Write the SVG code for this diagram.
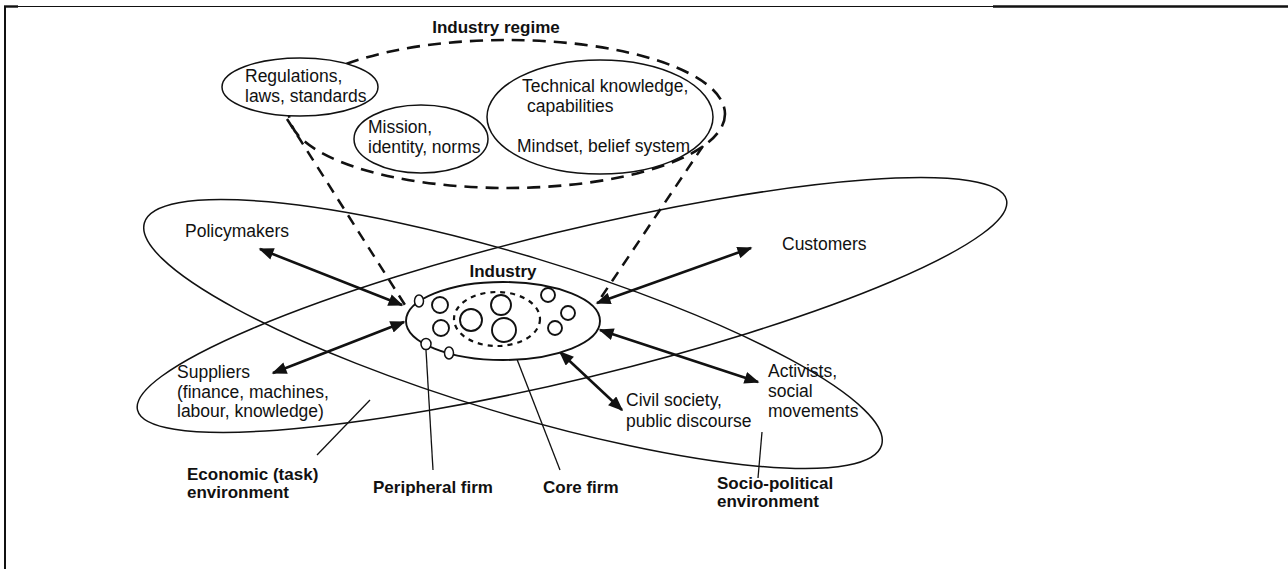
<svg xmlns="http://www.w3.org/2000/svg" width="1288" height="569" viewBox="0 0 1288 569">
<style>
.t{font-family:"Liberation Sans",Arial,sans-serif;font-size:17.5px;fill:#111}
.b{font-family:"Liberation Sans",Arial,sans-serif;font-size:17px;font-weight:bold;fill:#111}
.thin{fill:none;stroke:#111;stroke-width:1.5}
.node{fill:#fff;stroke:#111;stroke-width:1.5}
.ind{fill:#fff;stroke:#111;stroke-width:1.9}
.dash{fill:none;stroke:#111;stroke-width:2.6;stroke-dasharray:13 8}
.dl{fill:none;stroke:#111;stroke-width:2.5;stroke-dasharray:11 8}
.arr{fill:none;stroke:#111;stroke-width:2.6;marker-start:url(#ah);marker-end:url(#ah)}
.lead{fill:none;stroke:#111;stroke-width:1.3}
</style>
<defs>
<marker id="ah" viewBox="0 0 10 8" refX="9" refY="4" markerWidth="6" markerHeight="4.6" markerUnits="strokeWidth" orient="auto-start-reverse">
<path d="M0,0 L10,4 L0,8 Z" fill="#111"/>
</marker>
</defs>
<rect width="1288" height="569" fill="#fff"/>
<g id="frame">
<line x1="4" y1="6.5" x2="1288" y2="6.5" stroke="#111" stroke-width="1.2"/>
<line x1="4" y1="6.5" x2="18" y2="6.5" stroke="#111" stroke-width="2.4"/>
<line x1="993" y1="6.5" x2="1288" y2="6.5" stroke="#111" stroke-width="2.4"/>
<line x1="5" y1="6" x2="5" y2="569" stroke="#111" stroke-width="2"/>
</g>
<g id="environments">
<ellipse id="socio-political-ellipse" class="thin" cx="513" cy="334" rx="385" ry="79" transform="rotate(16.8 513 334)"/>
<ellipse id="economic-ellipse" class="thin" cx="572" cy="305" rx="447" ry="74" transform="rotate(-13.6 572 305)"/>
</g>
<g id="industry-regime">
<ellipse class="dash" cx="507" cy="114" rx="218" ry="74"/>
<text class="b" x="496" y="33" text-anchor="middle">Industry regime</text>
</g>
<g id="connectors">
<line class="dl" x1="287" y1="119" x2="405" y2="305"/>
<line class="dl" x1="703" y1="146" x2="598" y2="302"/>
<line class="arr" x1="260" y1="249" x2="402" y2="305"/>
<line class="arr" x1="273" y1="373" x2="404" y2="322"/>
<line class="arr" x1="597" y1="303" x2="751" y2="248"/>
<line class="arr" x1="600" y1="330" x2="758" y2="382"/>
<line class="arr" x1="560" y1="352" x2="622" y2="410"/>
<line class="lead" x1="426" y1="350" x2="433" y2="470"/>
<line class="lead" x1="506" y1="331" x2="560" y2="470"/>
<line class="lead" x1="370" y1="400" x2="317" y2="455"/>
<line class="lead" x1="762" y1="432" x2="758" y2="478"/>
</g>
<g id="regulations">
<ellipse class="node" cx="300" cy="87" rx="78" ry="29"/>
<text class="t" x="245" y="82">Regulations,</text>
<text class="t" x="245" y="102">laws, standards</text>
</g>
<g id="mission">
<ellipse class="node" cx="421" cy="139" rx="67" ry="34"/>
<text class="t" x="368" y="133">Mission,</text>
<text class="t" x="368" y="153">identity, norms</text>
</g>
<g id="technical">
<ellipse class="node" cx="600" cy="117" rx="113" ry="57"/>
<text class="t" x="522" y="92">Technical knowledge,</text>
<text class="t" x="527" y="112">capabilities</text>
<text class="t" x="517" y="152">Mindset, belief system</text>
</g>
<g id="industry">
<ellipse class="ind" cx="503" cy="321" rx="97" ry="39"/>
<ellipse cx="497" cy="319" rx="43" ry="27" fill="none" stroke="#111" stroke-width="2.2" stroke-dasharray="5 5"/>
<circle class="ind" cx="440" cy="305" r="8"/>
<circle class="ind" cx="441" cy="328" r="8"/>
<circle class="ind" cx="471" cy="320" r="11"/>
<circle class="ind" cx="501" cy="305" r="10"/>
<circle class="ind" cx="504" cy="330" r="12"/>
<circle class="ind" cx="548" cy="295" r="7"/>
<circle class="ind" cx="568" cy="313" r="7"/>
<circle class="ind" cx="555" cy="328" r="7"/>
<ellipse class="node" cx="419" cy="301" rx="4.5" ry="6"/>
<ellipse class="node" cx="426" cy="344" rx="5" ry="5.5"/>
<ellipse class="node" cx="449" cy="353" rx="4.5" ry="6"/>
<text class="b" x="503" y="277" text-anchor="middle">Industry</text>
</g>
<g id="policymakers"><text class="t" x="185" y="237">Policymakers</text></g>
<g id="suppliers">
<text class="t" x="177" y="378">Suppliers</text>
<text class="t" x="177" y="398">(finance, machines,</text>
<text class="t" x="177" y="417">labour, knowledge)</text>
</g>
<g id="customers"><text class="t" x="782" y="250">Customers</text></g>
<g id="activists">
<text class="t" x="768" y="377">Activists,</text>
<text class="t" x="768" y="397">social</text>
<text class="t" x="768" y="417">movements</text>
</g>
<g id="civil-society">
<text class="t" x="626" y="406">Civil society,</text>
<text class="t" x="626" y="427">public discourse</text>
</g>
<g id="labels">
<text class="b" x="187" y="480">Economic (task)</text>
<text class="b" x="187" y="498">environment</text>
<text class="b" x="433" y="493" text-anchor="middle">Peripheral firm</text>
<text class="b" x="543" y="493">Core firm</text>
<text class="b" x="717" y="489">Socio-political</text>
<text class="b" x="717" y="507">environment</text>
</g>
</svg>
